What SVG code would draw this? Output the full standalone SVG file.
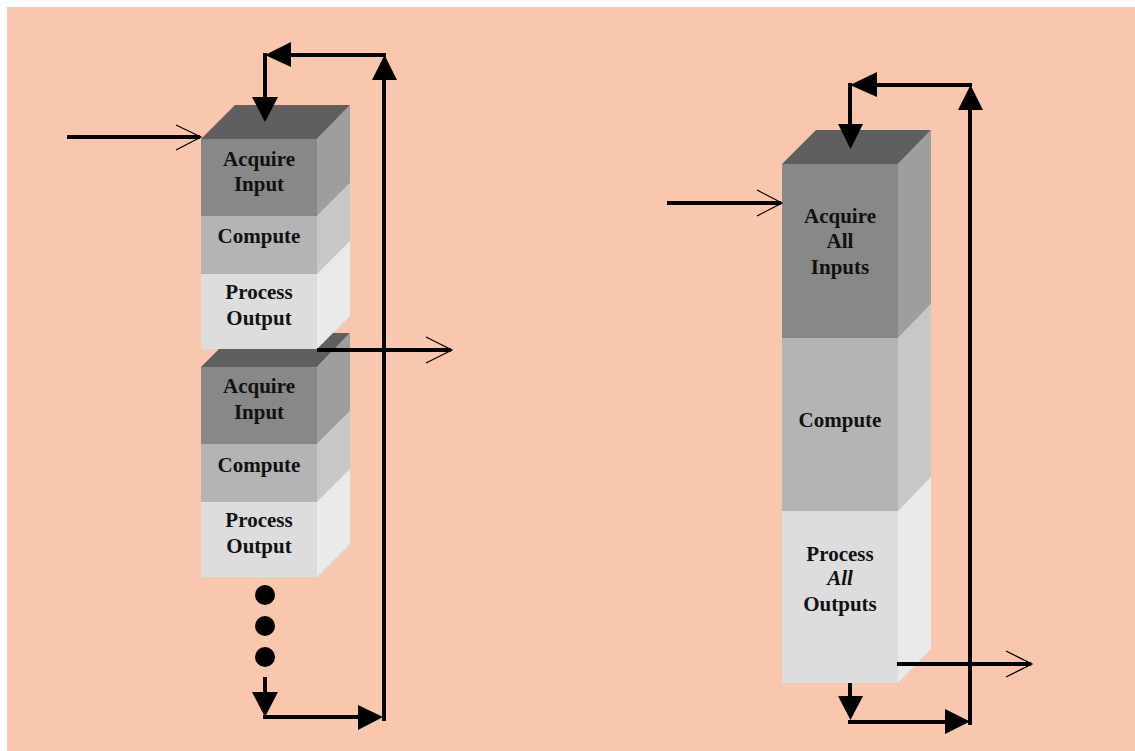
<svg xmlns="http://www.w3.org/2000/svg" width="1135" height="751" viewBox="0 0 1135 751">
<defs>
<style>
.top{fill:#5f5f5f}
.aF{fill:#888888}.aS{fill:#9e9e9e}
.cF{fill:#b4b4b4}.cS{fill:#c7c7c7}
.pF{fill:#dddddd}.pS{fill:#eaeaea}
.t{font-family:"Liberation Serif","Times New Roman",serif;font-weight:bold;font-size:21px;fill:#111;text-anchor:middle}
.w{stroke:#000;stroke-width:4;fill:none}
.thin{stroke:#000;stroke-width:1.2;fill:none}
.ah{fill:#000}
</style>
</defs>
<rect x="7" y="7" width="1128" height="744" fill="#f9c6ae"/>

<g id="block2">
<polygon class="top" points="201,367 235,333 350,333 317,367"/>
<rect class="aF" x="201" y="367" width="116" height="77"/>
<polygon class="aS" points="317,367 350,333 350,411 317,444"/>
<rect class="cF" x="201" y="444" width="116" height="58"/>
<polygon class="cS" points="317,444 350,411 350,469 317,502"/>
<rect class="pF" x="201" y="502" width="116" height="75"/>
<polygon class="pS" points="317,502 350,469 350,544 317,577"/>
<text class="t" x="259" y="393">Acquire</text>
<text class="t" x="259" y="418.5">Input</text>
<text class="t" x="259" y="471.5">Compute</text>
<text class="t" x="259" y="527">Process</text>
<text class="t" x="259" y="552.5">Output</text>
</g>

<g id="block1">
<polygon class="top" points="201,139 235,105 350,105 317,139"/>
<rect class="aF" x="201" y="139" width="116" height="77"/>
<polygon class="aS" points="317,139 350,105 350,183 317,216"/>
<rect class="cF" x="201" y="216" width="116" height="58"/>
<polygon class="cS" points="317,216 350,183 350,241 317,274"/>
<rect class="pF" x="201" y="274" width="116" height="75"/>
<polygon class="pS" points="317,274 350,241 350,316 317,349"/>
<text class="t" x="259" y="165.5">Acquire</text>
<text class="t" x="259" y="191">Input</text>
<text class="t" x="259" y="243">Compute</text>
<text class="t" x="259" y="299">Process</text>
<text class="t" x="259" y="324.5">Output</text>
</g>

<g id="dots">
<circle cx="265" cy="595" r="10" fill="#000"/>
<circle cx="265" cy="626" r="10" fill="#000"/>
<circle cx="265" cy="657" r="10" fill="#000"/>
</g>

<g id="block3">
<polygon class="top" points="782,164 816,130 931,130 898,164"/>
<rect class="aF" x="782" y="164" width="116" height="174"/>
<polygon class="aS" points="898,164 931,130 931,304 898,338"/>
<rect class="cF" x="782" y="338" width="116" height="173"/>
<polygon class="cS" points="898,338 931,304 931,477 898,511"/>
<rect class="pF" x="782" y="511" width="116" height="172"/>
<polygon class="pS" points="898,511 931,477 931,649 898,683"/>
<text class="t" x="840" y="223">Acquire</text>
<text class="t" x="840" y="248">All</text>
<text class="t" x="840" y="273.5">Inputs</text>
<text class="t" x="840" y="426.5">Compute</text>
<text class="t" x="840" y="560.5">Process</text>
<text class="t" x="840" y="585" font-style="italic">All</text>
<text class="t" x="840" y="610.5">Outputs</text>
</g>

<g id="connectors">
<!-- left side -->
<line class="w" x1="67" y1="137" x2="200" y2="137"/>
<polyline class="thin" points="176,125 201,137 176,150"/>
<line class="w" x1="317" y1="350" x2="451" y2="350"/>
<polyline class="thin" points="426,337 452,350 426,363"/>
<line class="w" x1="265" y1="677" x2="265" y2="700"/>
<polygon class="ah" points="252,692 278,692 265,717"/>
<line class="w" x1="263" y1="717" x2="365" y2="717"/>
<polygon class="ah" points="358,705 383,717 358,730"/>
<line class="w" x1="384" y1="721" x2="384" y2="70"/>
<polygon class="ah" points="372,80 397,80 384.5,55"/>
<line class="w" x1="386" y1="55" x2="280" y2="55"/>
<polygon class="ah" points="291,42 291,67 265,55"/>
<line class="w" x1="265" y1="53" x2="265" y2="105"/>
<polygon class="ah" points="252,97 278,97 265,122"/>
<!-- right side -->
<line class="w" x1="667" y1="203" x2="781" y2="203"/>
<polyline class="thin" points="757,190 782,203 757,216"/>
<line class="w" x1="897" y1="664" x2="1031" y2="664"/>
<polyline class="thin" points="1006,651 1032,664 1006,677"/>
<line class="w" x1="850" y1="683" x2="850" y2="702"/>
<polygon class="ah" points="838,696 863,696 850.5,720"/>
<line class="w" x1="848" y1="722" x2="955" y2="722"/>
<polygon class="ah" points="945,709 970,721.5 945,734"/>
<line class="w" x1="970" y1="725" x2="970" y2="100"/>
<polygon class="ah" points="958,110 983,110 970.5,85"/>
<line class="w" x1="972" y1="85" x2="865" y2="85"/>
<polygon class="ah" points="877,72 877,97 850,85"/>
<line class="w" x1="850" y1="83" x2="850" y2="132"/>
<polygon class="ah" points="838,124 863,124 850.5,149"/>
</g>
</svg>
